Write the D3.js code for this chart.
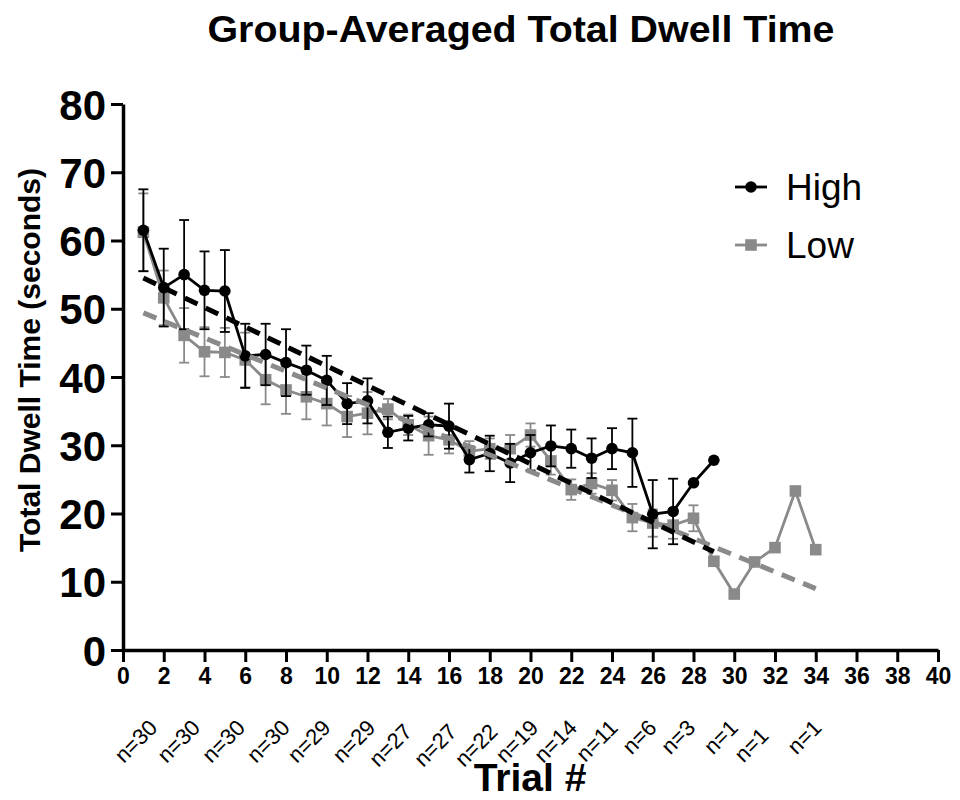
<!DOCTYPE html>
<html>
<head>
<meta charset="utf-8">
<script src="https://cdn.jsdelivr.net/npm/d3@7"></script>
<style>
  body { margin: 0; background: #fff; }
  svg { display: block; font-family: "Liberation Sans", Arial, sans-serif; }
</style>
</head>
<body>
<svg id="chart" width="960" height="800"></svg>
<script>
// trial numbers
const highTrials = d3.range(1, 30);
const lowTrials = d3.range(1, 35);

// High group means and error (SEM)
const highMean = [61.5, 53.1, 55.0, 52.7, 52.6, 43.1, 43.3, 42.1, 41.0, 39.5,
  36.1, 36.5, 31.9, 32.5, 33.0, 32.8, 27.9, 28.8, 27.4, 28.9,
  29.9, 29.5, 28.1, 29.5, 28.9, 19.9, 20.3, 24.5, 27.8];
const highErr = [6.0, 5.7, 8.0, 5.7, 6.0, 4.7, 4.5, 4.9, 3.6, 3.6,
  3.0, 3.3, 2.3, 1.8, 1.7, 3.3, 1.9, 2.6, 2.8, 2.6,
  3.0, 2.8, 2.9, 3.0, 5.0, 5.0, 4.8, 0, 0];

// Low group means and error (SEM)
const lowMean = [61.2, 51.6, 46.1, 43.7, 43.6, 42.5, 39.6, 38.1, 37.1, 36.1,
  34.2, 34.7, 35.3, 33.0, 31.4, 30.8, 29.1, 29.5, 29.5, 31.5,
  27.7, 23.5, 24.4, 23.4, 19.4, 18.6, 18.3, 19.3, 13.0, 8.2,
  12.9, 15.0, 23.3, 14.7];
const lowErr = [5.7, 4.0, 4.0, 3.6, 3.6, 4.0, 3.6, 3.5, 3.3, 3.2,
  3.0, 3.1, 1.5, 1.5, 2.8, 2.0, 1.5, 1.5, 2.0, 1.7,
  2.0, 1.5, 1.5, 1.5, 2.0, 2.0, 2.0, 1.9, 0, 0,
  0, 0, 0, 0];

// linear trend endpoints [trial, value]
const highTrend = [[1, 54.5], [29, 14.4]];
const lowTrend = [[1, 49.4], [34, 9.0]];

// n annotations under the x axis (position in trial units)
const nLabels = ["n=30", "n=30", "n=30", "n=30", "n=29", "n=29", "n=27", "n=27", "n=22",
  "n=19", "n=14", "n=11", "n=6", "n=3", "n=1", "n=1", "n=1"];
const nPos = [1.8, 3.9, 6.1, 8.3, 10.3, 12.5, 14.3, 16.5, 18.5,
  20.5, 22.4, 24.4, 26.3, 28.2, 30.3, 31.8, 34.4];
const nDrop = [0, 0, 0, 0, 0, 0, 1, 1, 1, 0, 0, 0, 0, 0, 0, 2, 0];

const xTicks = d3.range(0, 41, 2);
const yTicks = d3.range(0, 81, 10);

const BLACK = "#000";
const GRAY = "#8a8a8a";

const svg = d3.select("#chart");
const x = d3.scaleLinear().domain([0, 40]).range([123, 938]);
const y = d3.scaleLinear().domain([0, 80]).range([650, 104]);

// title
svg.append("text")
  .attr("x", 521).attr("y", 42)
  .attr("text-anchor", "middle")
  .attr("font-size", 36).attr("font-weight", "bold")
  .attr("textLength", 627).attr("lengthAdjust", "spacingAndGlyphs")
  .text("Group-Averaged Total Dwell Time");

// axes
const yAxis = svg.append("g")
  .attr("transform", `translate(${x(0)},0)`)
  .call(d3.axisLeft(y).tickValues(yTicks).tickSize(12).tickPadding(5).tickSizeOuter(0));
yAxis.select(".domain").attr("stroke-width", 3.5);
yAxis.selectAll(".tick line").attr("stroke-width", 3);
yAxis.selectAll(".tick text")
  .attr("font-size", 42).attr("font-weight", "bold")
  .attr("font-family", "Liberation Sans, Arial, sans-serif")
  .attr("dy", "0.36em");

const xAxis = svg.append("g")
  .attr("transform", `translate(0,${y(0)})`)
  .call(d3.axisBottom(x).tickValues(xTicks).tickSize(12).tickPadding(6).tickSizeOuter(0));
xAxis.select(".domain").attr("stroke-width", 3.5);
xAxis.selectAll(".tick line").attr("stroke-width", 3);
xAxis.selectAll(".tick text")
  .attr("font-size", 23).attr("font-weight", "bold")
  .attr("font-family", "Liberation Sans, Arial, sans-serif");

// axis titles
svg.append("text")
  .attr("transform", `translate(40,${360}) rotate(-90)`)
  .attr("text-anchor", "middle")
  .attr("font-size", 30).attr("font-weight", "bold")
  .text("Total Dwell Time (seconds)");

svg.append("text")
  .attr("x", 530).attr("y", 791)
  .attr("text-anchor", "middle")
  .attr("font-size", 39).attr("font-weight", "bold")
  .text("Trial #");

// n labels
svg.append("g").selectAll("text")
  .data(nLabels)
  .join("text")
  .attr("transform", (d, i) => `translate(${x(nPos[i]) - 1},${729 + nDrop[i] * 4}) rotate(-45)`)
  .attr("text-anchor", "end")
  .attr("font-size", 22)
  .text(d => d);

// plot layers
const plot = svg.append("g");
const line = d3.line().x(d => x(d[0])).y(d => y(d[1]));

function drawSeries(trials, means, errs, color, shape) {
  const g = plot.append("g");
  const pts = trials.map((t, i) => ({ t, m: means[i], e: errs[i] }));
  const withErr = pts.filter(p => p.e > 0);
  g.selectAll("line.eb").data(withErr).join("line")
    .attr("x1", p => x(p.t)).attr("x2", p => x(p.t))
    .attr("y1", p => y(p.m - p.e)).attr("y2", p => y(p.m + p.e))
    .attr("stroke", color).attr("stroke-width", 1.8);
  [1, -1].forEach(s => {
    g.selectAll("line.cap" + s).data(withErr).join("line")
      .attr("x1", p => x(p.t) - 5).attr("x2", p => x(p.t) + 5)
      .attr("y1", p => y(p.m + s * p.e)).attr("y2", p => y(p.m + s * p.e))
      .attr("stroke", color).attr("stroke-width", 1.8);
  });
  g.append("path")
    .attr("d", line(pts.map(p => [p.t, p.m])))
    .attr("fill", "none").attr("stroke", color).attr("stroke-width", 2.8);
  if (shape === "circle") {
    g.selectAll("circle").data(pts).join("circle")
      .attr("cx", p => x(p.t)).attr("cy", p => y(p.m)).attr("r", 5.8)
      .attr("fill", color);
  } else {
    g.selectAll("rect").data(pts).join("rect")
      .attr("x", p => x(p.t) - 5.8).attr("y", p => y(p.m) - 5.8)
      .attr("width", 11.6).attr("height", 11.6)
      .attr("fill", color);
  }
}

drawSeries(lowTrials, lowMean, lowErr, GRAY, "square");
drawSeries(highTrials, highMean, highErr, BLACK, "circle");

// trend lines
plot.append("path").attr("d", line(lowTrend))
  .attr("fill", "none").attr("stroke", GRAY).attr("stroke-width", 5)
  .attr("stroke-dasharray", "14 9");
plot.append("path").attr("d", line(highTrend))
  .attr("fill", "none").attr("stroke", BLACK).attr("stroke-width", 5)
  .attr("stroke-dasharray", "14 9");

// legend
const legend = svg.append("g");
const legendItems = [
  { label: "High", color: BLACK, shape: "circle", y: 187 },
  { label: "Low", color: GRAY, shape: "square", y: 245 }
];
legendItems.forEach(it => {
  legend.append("line")
    .attr("x1", 735).attr("x2", 767).attr("y1", it.y).attr("y2", it.y)
    .attr("stroke", it.color).attr("stroke-width", 2.8);
  if (it.shape === "circle") {
    legend.append("circle").attr("cx", 751).attr("cy", it.y).attr("r", 5.8).attr("fill", it.color);
  } else {
    legend.append("rect").attr("x", 745.2).attr("y", it.y - 5.8)
      .attr("width", 11.6).attr("height", 11.6).attr("fill", it.color);
  }
  legend.append("text")
    .attr("x", 786).attr("y", it.y + 13)
    .attr("font-size", 37)
    .text(it.label);
});
</script>
</body>
</html>
